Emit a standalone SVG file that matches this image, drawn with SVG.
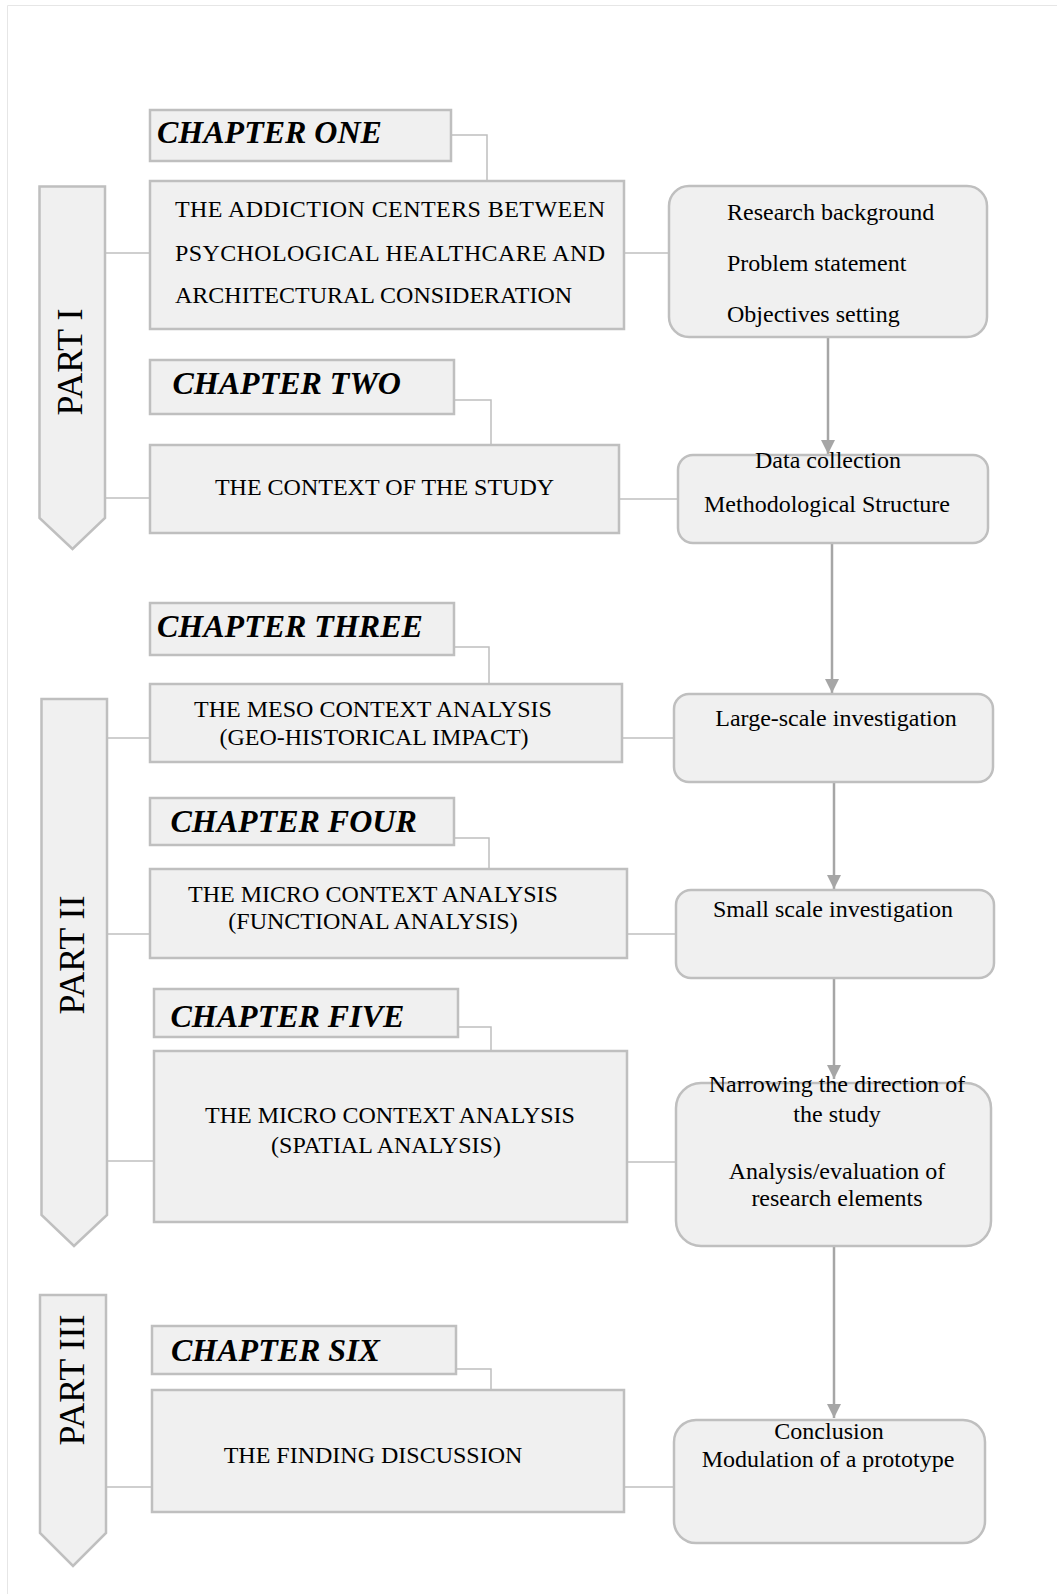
<svg xmlns="http://www.w3.org/2000/svg" width="1057" height="1594" viewBox="0 0 1057 1594">
  <defs>
    <marker id="ah" markerUnits="userSpaceOnUse" markerWidth="16" markerHeight="16" refX="14" refY="7" orient="auto">
      <path d="M0,0 L14,7 L0,14 z" fill="#a6a6a6"/>
    </marker>
    <style>
      .box { fill: #f0f0f0; stroke: #bfbfbf; stroke-width: 2.5; }
      .conn { stroke: #bfbfbf; stroke-width: 1.5; fill: none; }
      .flow { stroke: #a6a6a6; stroke-width: 2.5; fill: none; }
      .ch { font-family: "Liberation Serif", "Times New Roman", serif; font-weight: bold; font-style: italic; font-size: 32px; fill: #000; }
      .t { font-family: "Liberation Serif", "Times New Roman", serif; font-size: 24px; fill: #000; }
      .part { font-family: "Liberation Serif", "Times New Roman", serif; font-size: 36px; fill: #000; }
      .mid { text-anchor: middle; }
    </style>
  </defs>
  <rect width="1057" height="1594" fill="#ffffff"/>
  <path d="M7.5,1594 V5.5 H1057" fill="none" stroke="#e6e6e6" stroke-width="1"/>

  <g id="connectors">
    <!-- chapter to box elbows -->
    <polyline class="conn" points="451,135 487,135 487,181"/>
    <polyline class="conn" points="454,400 491,400 491,445"/>
    <polyline class="conn" points="454,647 489,647 489,684"/>
    <polyline class="conn" points="454,838 489,838 489,869"/>
    <polyline class="conn" points="458,1027 491,1027 491,1051"/>
    <polyline class="conn" points="456,1369 491,1369 491,1390"/>
    <!-- left part connectors -->
    <line class="conn" x1="105" y1="253" x2="150" y2="253"/>
    <line class="conn" x1="102" y1="498" x2="150" y2="498"/>
    <line class="conn" x1="107" y1="738" x2="150" y2="738"/>
    <line class="conn" x1="107" y1="934" x2="150" y2="934"/>
    <line class="conn" x1="107" y1="1161" x2="154" y2="1161"/>
    <line class="conn" x1="106" y1="1487" x2="152" y2="1487"/>
    <!-- right connectors -->
    <line class="conn" x1="624" y1="253" x2="669" y2="253"/>
    <line class="conn" x1="619" y1="499" x2="678" y2="499"/>
    <line class="conn" x1="622" y1="738" x2="674" y2="738"/>
    <line class="conn" x1="627" y1="934" x2="676" y2="934"/>
    <line class="conn" x1="627" y1="1162" x2="676" y2="1162"/>
    <line class="conn" x1="624" y1="1487" x2="674" y2="1487"/>
    <!-- flow arrows -->
    <line class="flow" x1="828" y1="338" x2="828" y2="454" marker-end="url(#ah)"/>
    <line class="flow" x1="832" y1="544" x2="832" y2="693" marker-end="url(#ah)"/>
    <line class="flow" x1="834" y1="782" x2="834" y2="889" marker-end="url(#ah)"/>
    <line class="flow" x1="834" y1="978" x2="834" y2="1079" marker-end="url(#ah)"/>
    <line class="flow" x1="834" y1="1246" x2="834" y2="1418" marker-end="url(#ah)"/>
  </g>

  <g id="part1">
    <polygon class="box" points="39.5,186.5 105,186.5 105,518 72.5,549 39.5,518"/>
    <text class="part mid" transform="translate(82,362) rotate(-90)">PART I</text>
  </g>
  <g id="part2">
    <polygon class="box" points="41.5,699 107,699 107,1215 74,1246 41.5,1215"/>
    <text class="part mid" transform="translate(84,955) rotate(-90)">PART II</text>
  </g>
  <g id="part3">
    <polygon class="box" points="40,1295 106,1295 106,1533 73,1566 40,1533"/>
    <text class="part mid" transform="translate(84,1380) rotate(-90)">PART III</text>
  </g>

  <g id="chapter1">
    <rect class="box" x="150" y="110" width="301" height="51"/>
    <text class="ch" x="157" y="143">CHAPTER ONE</text>
  </g>
  <g id="box1">
    <rect class="box" x="150" y="181" width="474" height="148"/>
    <text class="t" x="175" y="217" textLength="430" lengthAdjust="spacing">THE ADDICTION CENTERS BETWEEN</text>
    <text class="t" x="175" y="261" textLength="430" lengthAdjust="spacing">PSYCHOLOGICAL HEALTHCARE AND</text>
    <text class="t" x="175" y="303">ARCHITECTURAL CONSIDERATION</text>
  </g>
  <g id="research">
    <rect class="box" x="669" y="186" width="318" height="151" rx="20"/>
    <text class="t" x="727" y="220">Research background</text>
    <text class="t" x="727" y="271">Problem statement</text>
    <text class="t" x="727" y="322">Objectives setting</text>
  </g>

  <g id="chapter2">
    <rect class="box" x="150" y="360" width="304" height="54"/>
    <text class="ch" x="172.5" y="394">CHAPTER TWO</text>
  </g>
  <g id="box2">
    <rect class="box" x="150" y="445" width="469" height="88"/>
    <text class="t mid" x="384.5" y="495">THE CONTEXT OF THE STUDY</text>
  </g>
  <g id="data">
    <rect class="box" x="678" y="455" width="310" height="88" rx="15"/>
    <text class="t mid" x="828" y="468">Data collection</text>
    <text class="t mid" x="827" y="512">Methodological Structure</text>
  </g>

  <g id="chapter3">
    <rect class="box" x="150" y="603" width="304" height="52"/>
    <text class="ch" x="157" y="637">CHAPTER THREE</text>
  </g>
  <g id="box3">
    <rect class="box" x="150" y="684" width="472" height="78"/>
    <text class="t mid" x="373" y="717">THE MESO CONTEXT ANALYSIS</text>
    <text class="t mid" x="374" y="745">(GEO-HISTORICAL IMPACT)</text>
  </g>
  <g id="large">
    <rect class="box" x="674" y="694" width="319" height="88" rx="15"/>
    <text class="t mid" x="836" y="726">Large-scale investigation</text>
  </g>

  <g id="chapter4">
    <rect class="box" x="150" y="798" width="304" height="47"/>
    <text class="ch" x="170.5" y="832">CHAPTER FOUR</text>
  </g>
  <g id="box4">
    <rect class="box" x="150" y="869" width="477" height="89"/>
    <text class="t mid" x="373" y="902">THE MICRO CONTEXT ANALYSIS</text>
    <text class="t mid" x="373" y="929">(FUNCTIONAL ANALYSIS)</text>
  </g>
  <g id="small">
    <rect class="box" x="676" y="890" width="318" height="88" rx="15"/>
    <text class="t mid" x="833" y="917">Small scale investigation</text>
  </g>

  <g id="chapter5">
    <rect class="box" x="154" y="989" width="304" height="48"/>
    <text class="ch" x="170.5" y="1027">CHAPTER FIVE</text>
  </g>
  <g id="box5">
    <rect class="box" x="154" y="1051" width="473" height="171"/>
    <text class="t mid" x="390" y="1123">THE MICRO CONTEXT ANALYSIS</text>
    <text class="t mid" x="386" y="1153">(SPATIAL ANALYSIS)</text>
  </g>
  <g id="narrowing">
    <rect class="box" x="676" y="1083" width="315" height="163" rx="25"/>
    <text class="t mid" x="837" y="1092">Narrowing the direction of</text>
    <text class="t mid" x="837" y="1122">the study</text>
    <text class="t mid" x="837" y="1179">Analysis/evaluation of</text>
    <text class="t mid" x="837" y="1206">research elements</text>
  </g>

  <g id="chapter6">
    <rect class="box" x="152" y="1326" width="304" height="48"/>
    <text class="ch" x="171" y="1361">CHAPTER SIX</text>
  </g>
  <g id="box6">
    <rect class="box" x="152" y="1390" width="472" height="122"/>
    <text class="t mid" x="373" y="1463">THE FINDING DISCUSSION</text>
  </g>
  <g id="conclusion">
    <rect class="box" x="674" y="1420" width="311" height="123" rx="22"/>
    <text class="t mid" x="829" y="1439">Conclusion</text>
    <text class="t mid" x="828" y="1467">Modulation of a prototype</text>
  </g>
</svg>
